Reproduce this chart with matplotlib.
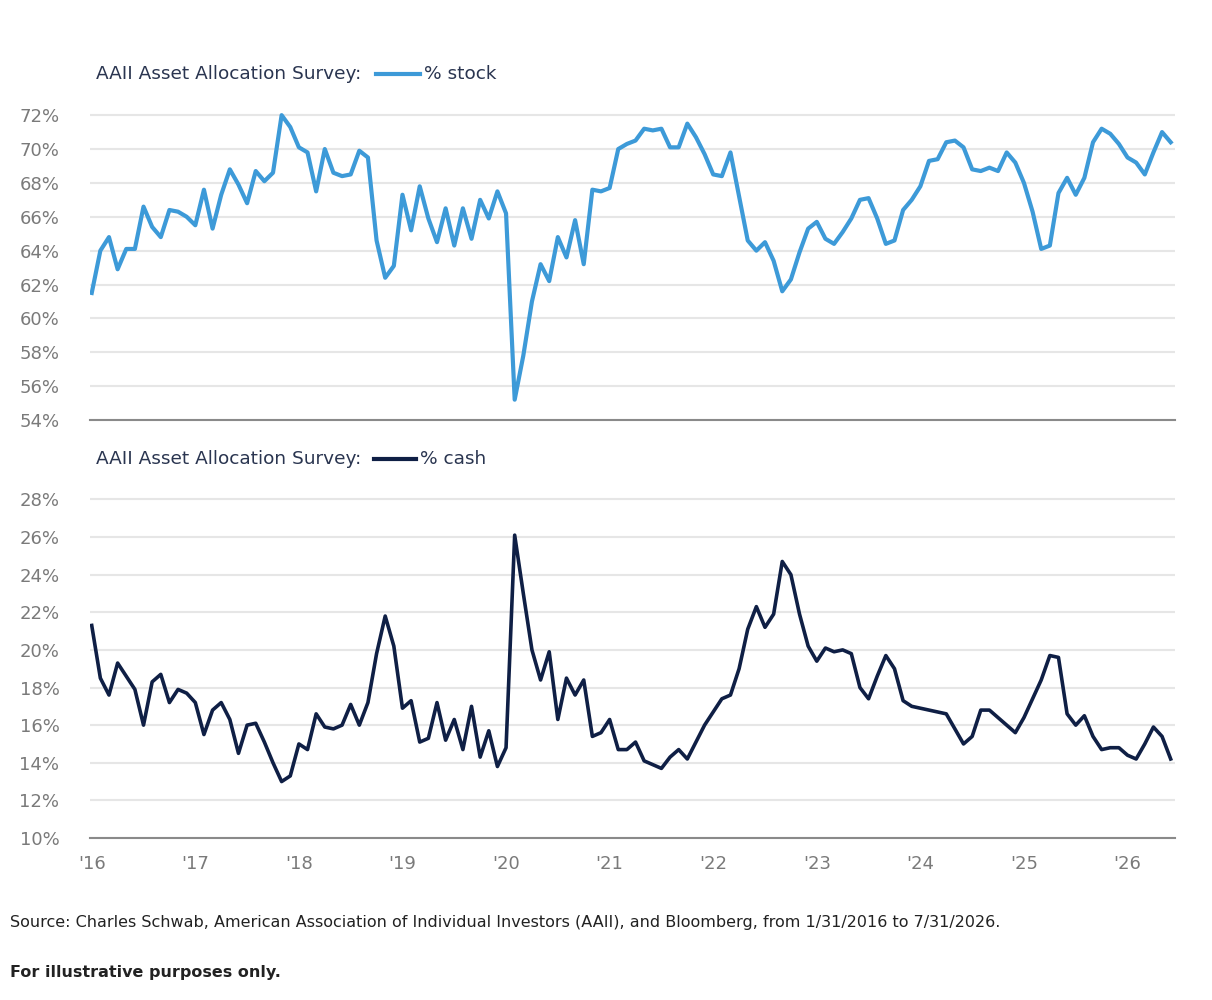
import matplotlib
matplotlib.use("Agg")
import matplotlib.pyplot as plt
from matplotlib.lines import Line2D

stock = [61.5,64.0,64.8,62.9,64.1,64.1,66.6,65.4,64.8,66.4,66.3,66.0,
         65.5,67.6,65.3,67.3,68.8,67.9,66.8,68.7,68.1,68.6,72.0,71.3,
         70.1,69.8,67.5,70.0,68.6,68.4,68.5,69.9,69.5,64.6,62.4,63.1,
         67.3,65.2,67.8,65.9,64.5,66.5,64.3,66.5,64.7,67.0,65.9,67.5,
         66.2,55.2,57.8,61.0,63.2,62.2,64.8,63.6,65.8,63.2,67.6,67.5,
         67.7,70.0,70.3,70.5,71.2,71.1,71.2,70.1,70.1,71.5,70.7,69.7,
         68.5,68.4,69.8,67.2,64.6,64.0,64.5,63.4,61.6,62.3,63.9,65.3,
         65.7,64.7,64.4,65.1,65.9,67.0,67.1,65.9,64.4,64.6,66.4,67.0,
         67.8,69.3,69.4,70.4,70.5,70.1,68.8,68.7,68.9,68.7,69.8,69.2,
         68.0,66.3,64.1,64.3,67.4,68.3,67.3,68.3,70.4,71.2,70.9,70.3,
         69.5,69.2,68.5,69.8,71.0,70.4]
cash = [21.3,18.5,17.6,19.3,18.6,17.9,16.0,18.3,18.7,17.2,17.9,17.7,
        17.2,15.5,16.8,17.2,16.3,14.5,16.0,16.1,15.1,14.0,13.0,13.3,
        15.0,14.7,16.6,15.9,15.8,16.0,17.1,16.0,17.2,19.8,21.8,20.2,
        16.9,17.3,15.1,15.3,17.2,15.2,16.3,14.7,17.0,14.3,15.7,13.8,
        14.8,26.1,23.0,20.0,18.4,19.9,16.3,18.5,17.6,18.4,15.4,15.6,
        16.3,14.7,14.7,15.1,14.1,13.9,13.7,14.3,14.7,14.2,15.1,16.0,
        16.7,17.4,17.6,19.0,21.1,22.3,21.2,21.9,24.7,24.0,21.9,20.2,
        19.4,20.1,19.9,20.0,19.8,18.0,17.4,18.6,19.7,19.0,17.3,17.0,
        16.9,16.8,16.7,16.6,15.8,15.0,15.4,16.8,16.8,16.4,16.0,15.6,
        16.4,17.4,18.4,19.7,19.6,16.6,16.0,16.5,15.4,14.7,14.8,14.8,
        14.4,14.2,15.0,15.9,15.4,14.2]
year_labels = ["'16","'17","'18","'19","'20","'21","'22","'23","'24","'25","'26"]

C_STOCK = "#3d9ad8"
C_CASH = "#0f1f45"
GRID = "#e6e6e6"
TICK = "#7a7a7a"
TITLE = "#2a3550"

fig = plt.figure(figsize=(12.12, 10), dpi=100)
ax1 = fig.add_axes([90/1212, 1-420/1000, 1085/1212, 315/1000])
ax2 = fig.add_axes([90/1212, 1-838/1000, 1085/1212, 348/1000])

def style(ax, ticks, lo, hi):
    ax.set_ylim(lo, hi)
    ax.set_yticks(ticks)
    ax.set_yticklabels([f"{t}%" for t in ticks])
    ax.grid(axis="y", color=GRID, lw=1.5)
    ax.set_axisbelow(True)
    for s in ["top", "right", "left"]:
        ax.spines[s].set_visible(False)
    ax.spines["bottom"].set_color("#8a8a8a")
    ax.spines["bottom"].set_linewidth(1.5)
    ax.tick_params(axis="y", length=0, labelsize=13, labelcolor=TICK, pad=22)
    ax.set_xlim(-0.2, 125.5)
    ax.set_xticks(range(0, 121, 12))

x = list(range(len(stock)))
ax1.plot(x, stock, color=C_STOCK, lw=3)
style(ax1, list(range(54, 73, 2)), 54, 72.6)
ax1.tick_params(axis="x", length=0, labelbottom=False)

ax2.plot(list(range(len(cash))), cash, color=C_CASH, lw=2.6)
style(ax2, list(range(10, 29, 2)), 10, 28.5)
ax2.set_xticklabels(year_labels)
ax2.tick_params(axis="x", length=0, labelsize=13, labelcolor=TICK, pad=12)

fig.text(96/1212, 1-74/1000, "AAII Asset Allocation Survey:", fontsize=13.3, color=TITLE, va="center")
fig.add_artist(Line2D([376/1212, 420/1212], [1-74/1000]*2, color=C_STOCK, lw=3))
fig.text(424/1212, 1-74/1000, "% stock", fontsize=13.3, color=TITLE, va="center")
fig.text(96/1212, 1-459/1000, "AAII Asset Allocation Survey:", fontsize=13.3, color=TITLE, va="center")
fig.add_artist(Line2D([374/1212, 416/1212], [1-459/1000]*2, color=C_CASH, lw=3))
fig.text(420/1212, 1-459/1000, "% cash", fontsize=13.3, color=TITLE, va="center")

fig.text(10/1212, 1-923/1000,
         "Source: Charles Schwab, American Association of Individual Investors (AAII), and Bloomberg, from 1/31/2016 to 7/31/2026.",
         fontsize=11.5, color="#222222", va="center")
fig.text(10/1212, 1-972/1000, "For illustrative purposes only.", fontsize=11.5,
         fontweight="bold", color="#222222", va="center")

fig.savefig("out.png", dpi=100)
